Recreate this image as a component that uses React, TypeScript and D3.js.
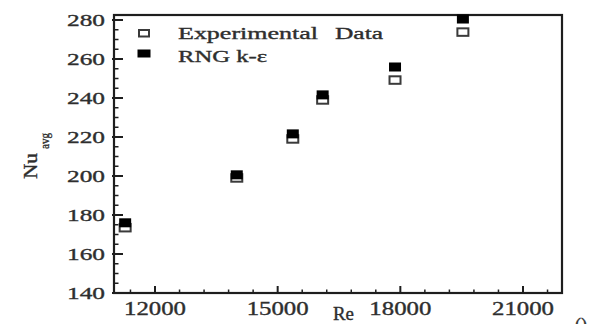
import React from "react";
import * as d3 from "d3";

// Reynolds numbers of the test cases
const reValues = [11270, 14000, 15370, 16100, 17870, 19530];
// Average Nusselt number, measured
const nuExperimental = [173.5, 199.0, 219.0, 239.0, 249.2, 273.8];
// Average Nusselt number, RNG k-ε simulation
const nuRng = [176.0, 200.6, 221.6, 241.6, 255.9, 280.5];

const xTicks = [12000, 15000, 18000, 21000];
const yTicks = [140, 160, 180, 200, 220, 240, 260, 280];

const legendLabels = ["Experimental", "Data", "RNG k-ε"];

const W = 592;
const H = 324;
const frame = { left: 114, right: 562, top: 15, bottom: 293 };

const FONT = "'Liberation Serif', 'Times New Roman', serif";
const INK = "#1e1e1e";
const TEXT = "#2e2e2e";

// shared text styling: slightly heavy serif glyphs
const txt = { fill: TEXT, stroke: TEXT, strokeWidth: 0.35 };

export default function App() {
  const x = d3.scaleLinear().domain([12000, 21000]).range([155, 523]);
  const y = d3.scaleLinear().domain([140, 280]).range([293, 20]);

  const xMinor = d3.range(11400, 21700, 600).filter((v) => v % 3000 !== 0);
  const yMinor = d3.range(145, 284, 5).filter((v) => v % 20 !== 0);

  const bw = 12, bh = 9; // filled marker
  const ow = 11, oh = 7.5; // open marker

  return (
    <svg
      width={W}
      height={H}
      style={{ position: "absolute", left: 0, top: 0, background: "#fff" }}
      fontFamily={FONT}
    >
      <rect x={0} y={0} width={W} height={H} fill="#fff" />

      {/* ticks: bottom axis */}
      {xTicks.map((t) => (
        <line key={"xt" + t} x1={x(t)} x2={x(t)} y1={frame.bottom} y2={frame.bottom - 7} stroke={INK} strokeWidth={2} />
      ))}
      {xMinor.map((t) => (
        <line key={"xm" + t} x1={x(t)} x2={x(t)} y1={frame.bottom} y2={frame.bottom - 3.5} stroke={INK} strokeWidth={1.5} />
      ))}
      {/* ticks: left axis */}
      {yTicks.map((t) => (
        <line key={"yt" + t} x1={frame.left - 2} x2={frame.left + 9} y1={y(t)} y2={y(t)} stroke={INK} strokeWidth={2} />
      ))}
      {yMinor.map((t) => (
        <line key={"ym" + t} x1={frame.left} x2={frame.left + 4.5} y1={y(t)} y2={y(t)} stroke={INK} strokeWidth={1.5} />
      ))}

      {/* frame */}
      <rect
        x={frame.left}
        y={frame.top}
        width={frame.right - frame.left}
        height={frame.bottom - frame.top}
        fill="none"
        stroke={INK}
        strokeWidth={2.2}
      />

      {/* tick labels */}
      {xTicks.map((t) => (
        <text
          key={"xl" + t}
          x={x(t) - 31}
          y={315}
          fontSize={18}
          {...txt}
          textLength={62}
          lengthAdjust="spacingAndGlyphs"
        >
          {t}
        </text>
      ))}
      {yTicks.map((t) => (
        <text
          key={"yl" + t}
          x={67}
          y={y(t) + 6}
          fontSize={17}
          {...txt}
          textLength={38}
          lengthAdjust="spacingAndGlyphs"
        >
          {t}
        </text>
      ))}

      {/* axis titles */}
      <text x={333} y={320} fontSize={18} {...txt} textLength={21} lengthAdjust="spacingAndGlyphs">
        Re
      </text>
      <text transform="translate(37,179) rotate(-90)" fontSize={18} {...txt} textLength={26} lengthAdjust="spacingAndGlyphs">
        Nu
      </text>
      <text transform="translate(49,149) rotate(-90)" fontSize={12} {...txt} textLength={16} lengthAdjust="spacingAndGlyphs">
        avg
      </text>

      {/* experimental data: open squares */}
      {reValues.map((r, i) => (
        <rect
          key={"e" + i}
          x={x(r) - ow / 2}
          y={y(nuExperimental[i]) - oh / 2}
          width={ow}
          height={oh}
          fill="#fff"
          stroke="#3a3a3a"
          strokeWidth={2}
        />
      ))}
      {/* RNG k-ε results: filled squares */}
      {reValues.map((r, i) => (
        <rect
          key={"r" + i}
          x={x(r) - bw / 2}
          y={y(nuRng[i]) - bh / 2}
          width={bw}
          height={bh}
          fill="#000"
        />
      ))}

      {/* legend */}
      <rect x={139} y={30} width={10} height={6.5} fill="#fff" stroke="#3a3a3a" strokeWidth={2} />
      <rect x={137.5} y={49.5} width={13} height={8} fill="#000" />
      <text x={178} y={39} fontSize={16} {...txt} textLength={140} lengthAdjust="spacingAndGlyphs">
        {legendLabels[0]}
      </text>
      <text x={335} y={39} fontSize={16} {...txt} textLength={48} lengthAdjust="spacingAndGlyphs">
        {legendLabels[1]}
      </text>
      <text x={178} y={62} fontSize={16} {...txt} textLength={89} lengthAdjust="spacingAndGlyphs">
        {legendLabels[2]}
      </text>

      {/* panel tag, partly past the page edge */}
      <text x={575} y={331} fontSize={18} {...txt}>
        ()
      </text>
    </svg>
  );
}
